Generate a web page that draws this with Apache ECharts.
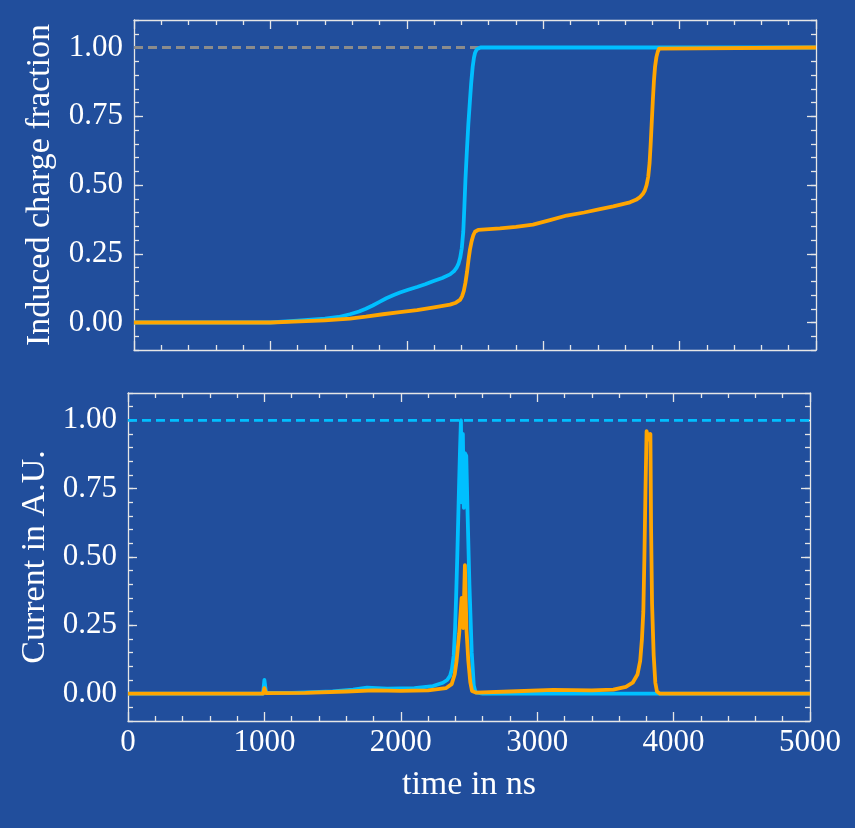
<!DOCTYPE html>
<html><head><meta charset="utf-8">
<script src="https://cdn.jsdelivr.net/npm/echarts@6/dist/echarts.min.js"></script>
<style>html,body{margin:0;padding:0;background:#214e9c;}#c{width:855px;height:828px;}</style>
</head><body><div id="c"></div>
<script>
// ---- data ----
const xTicks = [0, 1000, 2000, 3000, 4000, 5000];
const yMajorTicks = [0, 0.25, 0.5, 0.75, 1.0];
const refLine = [[0, 1], [5000, 1]];

// induced charge fraction (top)
const chargeBlue = [[0,0],[1000,0],[1010,0.003],[1200,0.007],[1400,0.014],[1500,0.02],[1583,0.03],[1650,0.04],[1700,0.05],[1750,0.062],[1800,0.075],[1850,0.088],[1900,0.099],[1950,0.109],[2010,0.119],[2075,0.129],[2135,0.139],[2192,0.15],[2260,0.162],[2317,0.175],[2345,0.186],[2366,0.2],[2380,0.215],[2392,0.237],[2403,0.27],[2414,0.33],[2422,0.42],[2430,0.52],[2440,0.62],[2451,0.72],[2462,0.8],[2472,0.87],[2483,0.93],[2492,0.962],[2500,0.98],[2512,0.993],[2525,0.999],[2540,1],[5000,1]];
const chargeOrange = [[0,0],[1000,0],[1010,0.003],[1217,0.004],[1400,0.008],[1583,0.014],[1700,0.021],[1825,0.03],[1950,0.038],[2075,0.045],[2200,0.055],[2317,0.065],[2360,0.072],[2390,0.082],[2405,0.095],[2418,0.115],[2430,0.145],[2442,0.185],[2453,0.23],[2463,0.265],[2475,0.295],[2488,0.318],[2500,0.33],[2524,0.337],[2683,0.342],[2800,0.348],[2925,0.356],[3050,0.372],[3172,0.389],[3300,0.4],[3416,0.412],[3514,0.422],[3636,0.437],[3680,0.446],[3710,0.456],[3730,0.467],[3745,0.48],[3758,0.5],[3770,0.53],[3780,0.58],[3788,0.65],[3796,0.73],[3804,0.81],[3812,0.88],[3820,0.93],[3830,0.965],[3840,0.985],[3850,0.996],[3862,1],[5000,1]];

// current (bottom)
const currentBlue = [[0,0],[990,0],[1000,0.05],[1012,0.004],[1200,0.003],[1500,0.008],[1650,0.015],[1752,0.022],[1900,0.018],[2100,0.02],[2236,0.028],[2309,0.04],[2340,0.05],[2361,0.065],[2375,0.09],[2388,0.14],[2398,0.24],[2406,0.36],[2414,0.5],[2421,0.64],[2428,0.78],[2434,0.89],[2441,1.0],[2447,0.7],[2455,0.95],[2462,0.68],[2470,0.88],[2480,0.87],[2490,0.65],[2503,0.4],[2520,0.15],[2535,0.03],[2548,0.005],[2600,0],[5000,0]];
const currentOrange = [[0,0],[990,0],[1000,0.02],[1012,0.002],[1300,0.003],[1600,0.008],[1800,0.012],[2000,0.01],[2200,0.012],[2330,0.02],[2373,0.035],[2395,0.07],[2409,0.12],[2428,0.22],[2446,0.35],[2458,0.24],[2470,0.47],[2482,0.23],[2495,0.12],[2510,0.04],[2522,0.01],[2550,0.004],[2800,0.008],[3117,0.014],[3400,0.012],[3558,0.015],[3650,0.025],[3700,0.04],[3735,0.07],[3755,0.12],[3768,0.2],[3778,0.3],[3786,0.5],[3794,0.75],[3802,0.96],[3815,0.93],[3830,0.95],[3835,0.6],[3842,0.33],[3854,0.14],[3866,0.04],[3878,0.008],[3900,0],[5000,0]];

// ---- chart ----
const bg = '#214e9c';
const axisCol = '#e6e6e6';
const font = 'Liberation Serif';
const chart = echarts.init(document.getElementById('c'), null, {renderer: 'canvas'});

const lineSt = {color: axisCol, width: 1.3};
function xAx(grid, pos, labels) {
  return {
    gridIndex: grid, type: 'value', position: pos, min: xTicks[0], max: xTicks[xTicks.length-1], interval: 1000,
    axisLine: {show: true, onZero: false, lineStyle: lineSt},
    axisTick: {show: true, inside: true, length: 9, lineStyle: lineSt},
    minorTick: {show: true, splitNumber: 5, length: 5, lineStyle: lineSt},
    splitLine: {show: false}, minorSplitLine: {show: false},
    axisLabel: {show: labels, formatter: v => String(v), color: '#ffffff', fontFamily: font, fontSize: 31, margin: 6},
    name: labels ? 'time in ns' : '', nameLocation: 'middle', nameGap: 47,
    nameTextStyle: {color: '#ffffff', fontFamily: font, fontSize: 34}
  };
}
function yMajor(grid, pos, labels, name, gap) {
  return {
    gridIndex: grid, type: 'value', position: pos, min: -0.1, max: 1.1,
    axisLine: {show: true, onZero: false, lineStyle: lineSt},
    axisTick: {show: true, inside: true, length: 9, lineStyle: lineSt, customValues: yMajorTicks},
    splitLine: {show: false},
    axisLabel: {show: labels, customValues: yMajorTicks, formatter: v => v.toFixed(2), color: '#ffffff', fontFamily: font, fontSize: 31, margin: 11},
    name: name || '', nameLocation: 'middle', nameGap: gap || 0,
    nameTextStyle: {color: '#ffffff', fontFamily: font, fontSize: 34}
  };
}
function yMinor(grid, pos) {
  return {
    gridIndex: grid, type: 'value', position: pos, min: -0.1, max: 1.1, interval: 0.05,
    axisLine: {show: false, onZero: false},
    axisTick: {show: true, inside: true, length: 5, lineStyle: lineSt},
    splitLine: {show: false},
    axisLabel: {show: false}
  };
}
function ser(xi, yi, data, color, dash, z) {
  return {
    type: 'line', xAxisIndex: xi, yAxisIndex: yi, data: data, showSymbol: false, symbol: 'none',
    lineStyle: {color: color, width: dash ? 2.8 : 3.8, type: dash ? [9, 5] : 'solid', join: 'round'},
    z: z, animation: false, silent: true
  };
}

chart.setOption({
  backgroundColor: bg,
  animation: false,
  textStyle: {fontFamily: font},
  grid: [
    {left: 134, top: 20, width: 682, height: 330, outerBoundsMode: 'none', containLabel: false},
    {left: 128, top: 393, width: 682, height: 328, outerBoundsMode: 'none', containLabel: false}
  ],
  xAxis: [xAx(0, 'bottom', false), xAx(0, 'top', false), xAx(1, 'bottom', true), xAx(1, 'top', false)],
  yAxis: [
    yMajor(0, 'left', true, 'Induced charge fraction', 77), yMinor(0, 'left'), yMajor(0, 'right', false), yMinor(0, 'right'),
    yMajor(1, 'left', true, 'Current in A.U.', 75), yMinor(1, 'left'), yMajor(1, 'right', false), yMinor(1, 'right')
  ],
  series: [
    ser(0, 0, refLine, '#8c8c8c', true, 2),
    ser(0, 0, chargeBlue, '#00bfff', false, 3),
    ser(0, 0, chargeOrange, '#ffa500', false, 4),
    ser(2, 4, refLine, '#00bfff', true, 2),
    ser(2, 4, currentBlue, '#00bfff', false, 3),
    ser(2, 4, currentOrange, '#ffa500', false, 4)
  ]
});
</script></body></html>
